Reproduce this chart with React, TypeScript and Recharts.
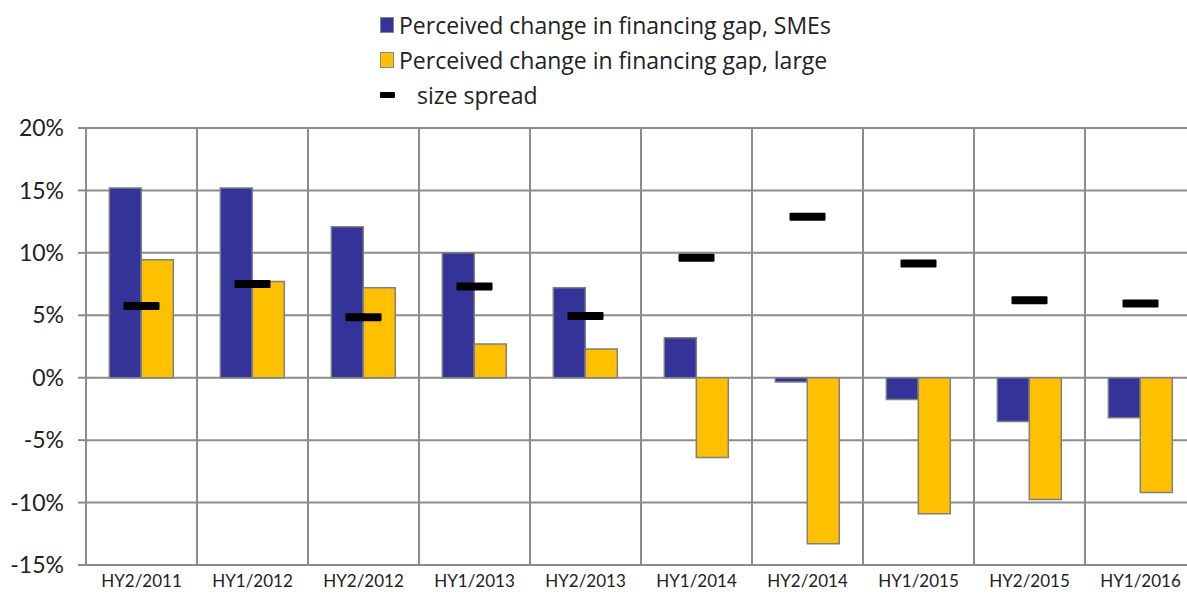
import { ComposedChart, Bar, Line, XAxis, YAxis, CartesianGrid, Legend } from "recharts";

const periods = ["HY2/2011", "HY1/2012", "HY2/2012", "HY1/2013", "HY2/2013", "HY1/2014", "HY2/2014", "HY1/2015", "HY2/2015", "HY1/2016"];
const smeGap = [15.2, 15.2, 12.1, 10.0, 7.2, 3.2, -0.35, -1.75, -3.5, -3.2];
const largeGap = [9.45, 7.7, 7.2, 2.7, 2.3, -6.4, -13.3, -10.9, -9.75, -9.2];
const sizeSpread = [5.75, 7.5, 4.85, 7.3, 4.95, 9.6, 12.9, 9.15, 6.2, 5.95];
const yTicks = [-15, -10, -5, 0, 5, 10, 15, 20];

const legendItems = [
  { name: "Perceived change in financing gap, SMEs", color: "#333399", kind: "box" },
  { name: "Perceived change in financing gap, large", color: "#FFC000", kind: "box" },
  { name: "size spread", color: "#000000", kind: "dash" },
];

const data = periods.map((p, i) => ({ period: p, sme: smeGap[i], large: largeGap[i], spread: sizeSpread[i] }));

const FONT = "Lato, 'Open Sans', sans-serif";
const LEGEND_FONT = "'Open Sans', Lato, sans-serif";
const GRID = "#8c8c8c";

function SpreadDot(props: any) {
  const { cx, cy } = props;
  if (cx == null || cy == null) return null;
  return <rect x={cx - 18} y={cy - 4} width={36} height={8} rx={1} fill="#000" />;
}

function ChartLegend() {
  return (
    <div style={{ fontFamily: LEGEND_FONT, fontSize: 23, color: "#222" }}>
      {legendItems.map((it) => (
        <div key={it.name} style={{ display: "flex", alignItems: "center", height: 35 }}>
          {it.kind === "box" ? (
            <span style={{ width: 12, height: 14, background: it.color, border: "1.5px solid #888", display: "inline-block" }} />
          ) : (
            <span style={{ width: 15, height: 6, background: it.color, display: "inline-block", borderRadius: 1 }} />
          )}
          <span style={{ marginLeft: it.kind === "box" ? 5 : 22, whiteSpace: "nowrap" }}>{it.name}</span>
        </div>
      ))}
    </div>
  );
}

export default function App() {
  return (
    <div style={{ position: "absolute", left: 0, top: 0, width: 1187, height: 597, overflow: "hidden", background: "#fff" }}>
      <ComposedChart
        width={1200}
        height={597}
        data={data}
        margin={{ top: 128, right: 4, bottom: 0, left: 0 }}
        barCategoryGap="21%"
        barGap={0}
      >
        <CartesianGrid
          stroke={GRID}
          strokeWidth={2}
          verticalCoordinatesGenerator={({ offset }: any) =>
            periods.map((_, i) => offset.left + (i * offset.width) / periods.length)
          }
        />
        <XAxis
          dataKey="period"
          height={32}
          tickLine={false}
          axisLine={false}
          tick={{ fontSize: 17, fill: "#222", fontFamily: FONT }}
          tickMargin={4}
          interval={0}
        />
        <YAxis
          domain={[-15, 20]}
          ticks={yTicks}
          width={86}
          tickSize={8}
          tickMargin={14}
          axisLine={false}
          tickLine={{ stroke: GRID, strokeWidth: 2 }}
          tickFormatter={(v: number) => `${v}%`}
          tick={{ fontSize: 23, fill: "#222", fontFamily: FONT }}
          interval={0}
        />
        <Legend
          layout="horizontal"
          verticalAlign="middle"
          align="center"
          wrapperStyle={{ top: 7, left: 380, width: 560, height: 110 }}
          content={() => <ChartLegend />}
        />
        <Bar dataKey="sme" name="Perceived change in financing gap, SMEs" fill="#333399" stroke="#808080" strokeWidth={1.5} isAnimationActive={false} />
        <Bar dataKey="large" name="Perceived change in financing gap, large" fill="#FFC000" stroke="#808080" strokeWidth={1.5} isAnimationActive={false} />
        <Line dataKey="spread" name="size spread" stroke="none" dot={<SpreadDot />} activeDot={false} isAnimationActive={false} />
      </ComposedChart>
    </div>
  );
}
